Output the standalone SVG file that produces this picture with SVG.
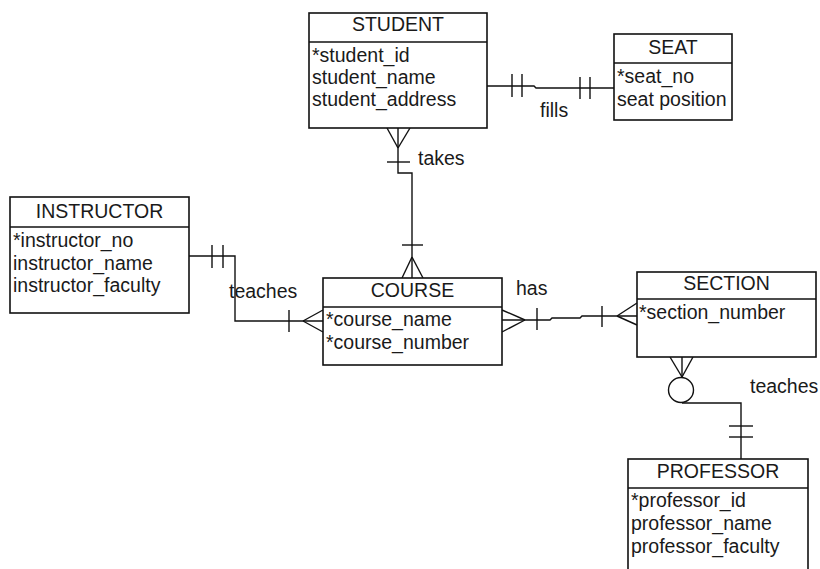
<svg xmlns="http://www.w3.org/2000/svg" width="820" height="569" viewBox="0 0 820 569">
<style>
  .box { fill: #ffffff; stroke: #111111; stroke-width: 1.6; }
  .div { stroke: #111111; stroke-width: 1.6; }
  .ln { fill: none; stroke: #111111; stroke-width: 1.4; }
  text { font-family: "Liberation Sans", Arial, sans-serif; font-size: 19.5px; fill: #1a1a1a; }
  .title { text-anchor: middle; }
</style>
<rect x="0" y="0" width="820" height="569" fill="#ffffff"/>

<g id="connectors">
  <!-- STUDENT - SEAT -->
  <polyline class="ln" points="487,86 534,86 536,88 615,88"/>
  <line class="ln" x1="512" y1="74" x2="512" y2="97"/>
  <line class="ln" x1="522" y1="74" x2="522" y2="97"/>
  <line class="ln" x1="580" y1="77" x2="580" y2="99"/>
  <line class="ln" x1="590" y1="77" x2="590" y2="99"/>
  <!-- STUDENT - COURSE -->
  <polyline class="ln" points="398,128 398,173 412,173 412,278"/>
  <line class="ln" x1="387" y1="128" x2="398" y2="148"/>
  <line class="ln" x1="410" y1="128" x2="398" y2="148"/>
  <line class="ln" x1="387" y1="162" x2="410" y2="162"/>
  <line class="ln" x1="402" y1="245" x2="423" y2="245"/>
  <line class="ln" x1="412" y1="257" x2="402" y2="278"/>
  <line class="ln" x1="412" y1="257" x2="423" y2="278"/>
  <!-- INSTRUCTOR - COURSE -->
  <polyline class="ln" points="188,256 235,256 235,321 323,321"/>
  <line class="ln" x1="212" y1="245" x2="212" y2="268"/>
  <line class="ln" x1="223" y1="245" x2="223" y2="268"/>
  <line class="ln" x1="289" y1="310" x2="289" y2="332"/>
  <line class="ln" x1="303" y1="321" x2="323" y2="310"/>
  <line class="ln" x1="303" y1="321" x2="323" y2="332"/>
  <!-- COURSE - SECTION -->
  <polyline class="ln" points="502,320 550,320 552,318 580,318 582,316 637,316"/>
  <line class="ln" x1="525" y1="320" x2="502" y2="310"/>
  <line class="ln" x1="525" y1="320" x2="502" y2="332"/>
  <line class="ln" x1="537" y1="308" x2="537" y2="330"/>
  <line class="ln" x1="602" y1="306" x2="602" y2="327"/>
  <line class="ln" x1="617" y1="316" x2="637" y2="303"/>
  <line class="ln" x1="617" y1="316" x2="637" y2="325"/>
  <!-- SECTION - PROFESSOR -->
  <line class="ln" x1="682" y1="357" x2="682" y2="377"/>
  <line class="ln" x1="670" y1="357" x2="682" y2="377"/>
  <line class="ln" x1="693" y1="357" x2="682" y2="377"/>
  <circle class="ln" cx="681" cy="390" r="12.5"/>
  <polyline class="ln" points="682,403 741,403 741,459"/>
  <line class="ln" x1="729" y1="426" x2="753" y2="426"/>
  <line class="ln" x1="729" y1="437" x2="753" y2="437"/>
  <!-- labels -->
  <text x="540" y="117">fills</text>
  <text x="418" y="165">takes</text>
  <text x="229" y="298">teaches</text>
  <text x="516" y="295">has</text>
  <text x="750" y="393">teaches</text>
</g>

<g id="student">
  <rect class="box" x="309" y="13" width="178" height="115"/>
  <line class="div" x1="309" y1="42" x2="487" y2="42"/>
  <text class="title" x="398" y="31">STUDENT</text>
  <text x="312" y="62">*student_id</text>
  <text x="312" y="84">student_name</text>
  <text x="312" y="106">student_address</text>
</g>

<g id="seat">
  <rect class="box" x="614" y="34" width="118" height="86"/>
  <line class="div" x1="614" y1="63" x2="732" y2="63"/>
  <text class="title" x="673" y="54">SEAT</text>
  <text x="617" y="83">*seat_no</text>
  <text x="617" y="106">seat position</text>
</g>

<g id="instructor">
  <rect class="box" x="10" y="197" width="179" height="116"/>
  <line class="div" x1="10" y1="227" x2="189" y2="227"/>
  <text class="title" x="99.5" y="218">INSTRUCTOR</text>
  <text x="13" y="247">*instructor_no</text>
  <text x="13" y="270">instructor_name</text>
  <text x="13" y="292">instructor_faculty</text>
</g>

<g id="course">
  <rect class="box" x="323" y="278" width="179" height="87"/>
  <line class="div" x1="323" y1="307" x2="502" y2="307"/>
  <text class="title" x="412.5" y="297">COURSE</text>
  <text x="326" y="326">*course_name</text>
  <text x="326" y="349">*course_number</text>
</g>

<g id="section">
  <rect class="box" x="637" y="272" width="179" height="85"/>
  <line class="div" x1="637" y1="299" x2="816" y2="299"/>
  <text class="title" x="726.5" y="290">SECTION</text>
  <text x="639" y="319">*section_number</text>
</g>

<g id="professor">
  <rect class="box" x="628" y="459" width="180" height="130"/>
  <line class="div" x1="628" y1="488" x2="808" y2="488"/>
  <text class="title" x="718" y="478">PROFESSOR</text>
  <text x="631" y="507">*professor_id</text>
  <text x="631" y="530">professor_name</text>
  <text x="631" y="553">professor_faculty</text>
</g>
</svg>
